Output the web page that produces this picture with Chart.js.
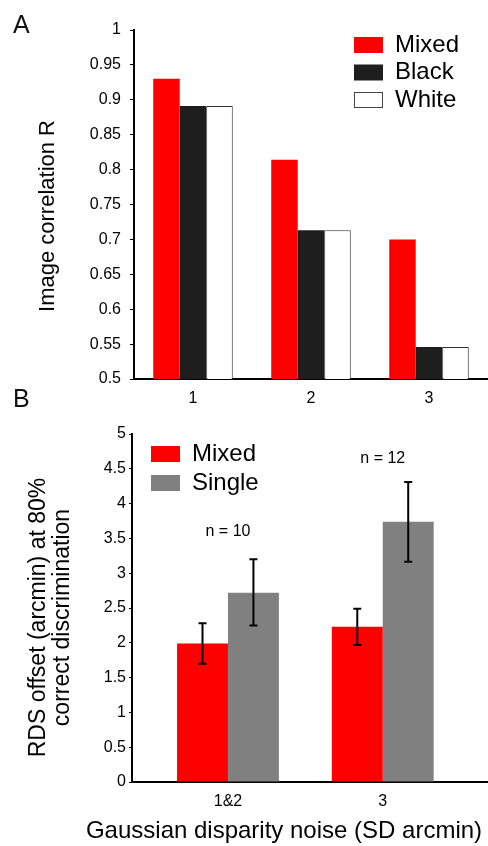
<!DOCTYPE html>
<html>
<head>
<meta charset="utf-8">
<script src="https://cdn.jsdelivr.net/npm/chart.js@4"></script>
<style>
  html, body { margin: 0; padding: 0; background: #fff; overflow: hidden; }
  body { width: 488px; height: 846px; position: relative; font-family: "Liberation Sans", Arial, sans-serif; }
  .panel { position: absolute; left: 0; width: 488px; }
  #boxA { top: 0; height: 415px; }
  #boxB { top: 415px; height: 431px; }
  .tag { position: absolute; left: 13px; font-size: 25px; line-height: 1; color: #111; }
</style>
</head>
<body>
<div class="panel" id="boxA"><canvas id="chartA" width="488" height="415"></canvas></div>
<div class="panel" id="boxB"><canvas id="chartB" width="488" height="431"></canvas></div>
<div class="tag" style="top:12px">A</div>
<div class="tag" style="top:386px">B</div>
<script>
// panel A: image correlation per noise level
const groupsA = ['1', '2', '3'];
const mixedA = [0.930, 0.814, 0.700];
const blackA = [0.891, 0.713, 0.546];
const whiteA = [0.891, 0.713, 0.546];

// panel B: discrimination threshold with error bars
const groupsB = ['1&2', '3'];
const groupPosB = [1, 2];
const mixedB = [1.99, 2.23];
const mixedLoB = [1.70, 1.97];
const mixedHiB = [2.28, 2.49];
const singleB = [2.72, 3.74];
const singleLoB = [2.25, 3.165];
const singleHiB = [3.20, 4.31];
const countLabels = ['n = 10', 'n = 12'];
const countY = [3.6, 4.65];

Chart.defaults.font.family = '"Liberation Sans", Arial, sans-serif';
Chart.defaults.color = '#000';

const fmt = v => String(+v.toFixed(2));

const errorBars = {
    id: 'errorBars',
    afterDatasetsDraw(chart) {
        const ctx = chart.ctx, y = chart.scales.y;
        ctx.save();
        ctx.strokeStyle = '#000';
        ctx.lineWidth = 2;
        chart.data.datasets.forEach((ds, i) => {
            if (!ds.errLo) return;
            chart.getDatasetMeta(i).data.forEach((bar, j) => {
                const top = y.getPixelForValue(ds.errHi[j]);
                const bot = y.getPixelForValue(ds.errLo[j]);
                ctx.beginPath();
                ctx.moveTo(bar.x, top); ctx.lineTo(bar.x, bot);
                ctx.moveTo(bar.x - 4, top); ctx.lineTo(bar.x + 4, top);
                ctx.moveTo(bar.x - 4, bot); ctx.lineTo(bar.x + 4, bot);
                ctx.stroke();
            });
        });
        ctx.restore();
    }
};

const countText = {
    id: 'countText',
    afterDatasetsDraw(chart, args, opts) {
        if (!opts.labels) return;
        const ctx = chart.ctx, x = chart.scales.x, y = chart.scales.y;
        ctx.save();
        ctx.font = '16px "Liberation Sans", Arial, sans-serif';
        ctx.textAlign = 'center';
        ctx.textBaseline = 'middle';
        ctx.fillStyle = '#000';
        opts.labels.forEach((t, i) => {
            ctx.fillText(t, x.getPixelForValue(opts.at[i]), y.getPixelForValue(opts.y[i]));
        });
        ctx.restore();
    }
};

// legend boxes stacked inside the plot
const sideLegend = {
    id: 'sideLegend',
    afterDraw(chart, args, opts) {
        const ctx = chart.ctx;
        ctx.save();
        ctx.font = '24px "Liberation Sans", Arial, sans-serif';
        ctx.textBaseline = 'middle';
        chart.data.datasets.forEach((ds, i) => {
            const cy = opts.y + i * opts.gap;
            ctx.fillStyle = ds.backgroundColor;
            ctx.fillRect(opts.x, cy - 8, 29, 16);
            if (ds.borderWidth) {
                ctx.strokeStyle = '#444';
                ctx.lineWidth = 1;
                ctx.strokeRect(opts.x + 0.5, cy - 7.5, 28, 15);
            }
            ctx.fillStyle = '#000';
            ctx.fillText(ds.label, opts.x + 41, cy);
        });
        ctx.restore();
    }
};

// axis captions placed freely (they run past the plot edges in the original)
const captions = {
    id: 'captions',
    afterDraw(chart, args, opts) {
        const ctx = chart.ctx;
        ctx.save();
        ctx.fillStyle = '#000';
        ctx.textAlign = 'center';
        ctx.textBaseline = 'middle';
        (opts.items || []).forEach(c => {
            ctx.font = c.size + 'px "Liberation Sans", Arial, sans-serif';
            ctx.save();
            ctx.translate(c.x, c.y);
            if (c.vertical) ctx.rotate(-Math.PI / 2);
            ctx.fillText(c.text, 0, 0);
            ctx.restore();
        });
        ctx.restore();
    }
};

new Chart(document.getElementById('chartA'), {
    type: 'bar',
    data: {
        labels: groupsA,
        datasets: [
            { label: 'Mixed', data: mixedA, backgroundColor: '#ff0000', borderWidth: 0 },
            { label: 'Black', data: blackA, backgroundColor: '#1e1e1e', borderWidth: 0 },
            { label: 'White', data: whiteA, backgroundColor: '#ffffff', borderColor: '#333', borderWidth: 1 }
        ]
    },
    options: {
        responsive: false,
        animation: false,
        layout: { padding: { top: 30, left: 0, right: 0, bottom: 0 } },
        datasets: { bar: { barPercentage: 1, categoryPercentage: 0.674 } },
        plugins: {
            legend: { display: false },
            tooltip: { enabled: false },
            sideLegend: { x: 354, y: 45, gap: 27.5 },
            captions: { items: [
                { text: 'Image correlation R', x: 47.5, y: 216, size: 22, vertical: true }
            ] }
        },
        scales: {
            x: {
                z: 1,
                grid: { display: false },
                border: { color: '#000', width: 2 },
                ticks: { font: { size: 16 }, padding: 2 },
                afterFit: s => { s.height = 36; }
            },
            y: {
                min: 0.5, max: 1,
                ticks: { stepSize: 0.05, font: { size: 16 }, padding: 9, callback: fmt },
                grid: { drawOnChartArea: false, drawTicks: true, tickLength: 4, color: '#000' },
                border: { color: '#000', width: 2 },
                afterFit: s => { s.width = 134; }
            }
        }
    },
    plugins: [sideLegend, captions]
});

new Chart(document.getElementById('chartB'), {
    type: 'bar',
    data: {
        datasets: [
            { label: 'Mixed', data: groupPosB.map((x, i) => ({ x: x, y: mixedB[i] })), backgroundColor: '#ff0000', borderWidth: 0, errLo: mixedLoB, errHi: mixedHiB },
            { label: 'Single', data: groupPosB.map((x, i) => ({ x: x, y: singleB[i] })), backgroundColor: '#808080', borderWidth: 0, errLo: singleLoB, errHi: singleHiB }
        ]
    },
    options: {
        responsive: false,
        animation: false,
        layout: { padding: { top: 19, left: 0, right: 0, bottom: 0 } },
        datasets: { bar: { barPercentage: 1, categoryPercentage: 0.658 } },
        plugins: {
            legend: { display: false },
            tooltip: { enabled: false },
            sideLegend: { x: 151, y: 39, gap: 29 },
            countText: { labels: countLabels, at: groupPosB, y: countY },
            captions: { items: [
                { text: 'RDS offset (arcmin) at 80%', x: 39, y: 202.5, size: 23, vertical: true },
                { text: 'correct discrimination', x: 63, y: 202.5, size: 23, vertical: true },
                { text: 'Gaussian disparity noise (SD arcmin)', x: 284, y: 416, size: 24 }
            ] }
        },
        scales: {
            x: {
                type: 'linear',
                z: 1,
                min: 0.38, max: 2.68,
                offset: false,
                afterBuildTicks: s => { s.ticks = groupPosB.map(v => ({ value: v })); },
                grid: { display: false },
                border: { color: '#000', width: 2 },
                ticks: { font: { size: 16 }, padding: 2, callback: v => groupsB[groupPosB.indexOf(v)] },
                afterFit: s => { s.height = 64; }
            },
            y: {
                min: 0, max: 5,
                ticks: { stepSize: 0.5, font: { size: 16 }, padding: 3, callback: fmt },
                grid: { drawOnChartArea: false, drawTicks: true, tickLength: 3, color: '#000' },
                border: { color: '#000', width: 2 },
                afterFit: s => { s.width = 132; }
            }
        }
    },
    plugins: [errorBars, countText, sideLegend, captions]
});
</script>
</body>
</html>
